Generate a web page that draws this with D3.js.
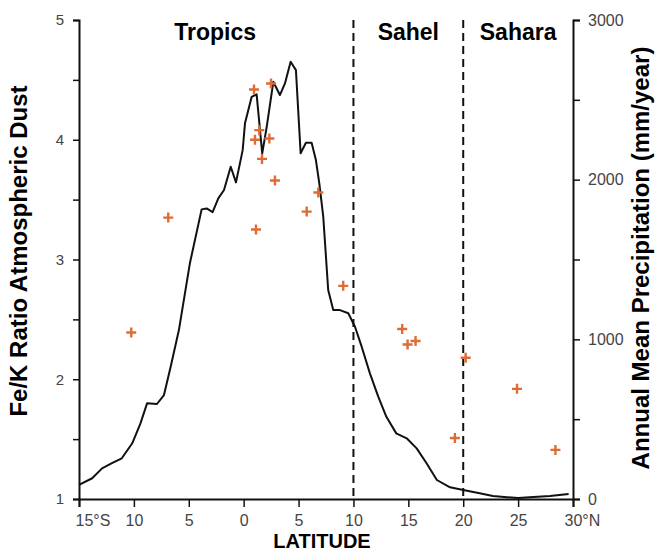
<!DOCTYPE html>
<html>
<head>
<meta charset="utf-8">
<script src="https://cdn.jsdelivr.net/npm/d3@7"></script>
<style>
  body { margin: 0; background: #fff; }
  text { font-family: "Liberation Sans", Arial, sans-serif; }
</style>
</head>
<body>
<svg id="chart" width="660" height="552"></svg>
<script>
// precipitation curve, latitude (neg = south) vs mm/year
const precipLat = [-15, -13.8, -12.9, -12.0, -11.1, -10.15, -9.4, -8.8, -7.9, -7.26, -6.65, -5.9, -4.9, -3.83, -3.37, -2.83, -2.31, -1.79, -1.18, -0.7, -0.09, 0.12, 0.73, 1.18, 1.69, 2.1, 2.7, 3.3, 3.76, 4.28, 4.76, 5.19, 5.67, 6.19, 6.58, 6.89, 7.25, 7.7, 8.16, 8.77, 9.53, 10.14, 10.75, 11.5, 12.26, 13.0, 13.9, 14.85, 15.76, 16.66, 17.6, 18.8, 20.0, 21.5, 22.7, 24.0, 25.0, 26.4, 27.9, 29.6]
const precip = [88, 130, 192, 224, 255, 349, 474, 599, 595, 651, 828, 1058, 1476, 1814, 1820, 1797, 1883, 1935, 2081, 1983, 2185, 2353, 2519, 2534, 2165, 2331, 2613, 2530, 2603, 2738, 2686, 2165, 2231, 2231, 2123, 1977, 1768, 1309, 1183, 1183, 1163, 1079, 954, 787, 641, 515, 411, 380, 317, 224, 119, 73, 56, 36, 19, 11, 6, 13, 19, 31]

// Fe/K samples
const sampleLat = [-10.24, -6.87, 0.94, 2.49, 1.42, 1.03, 2.34, 1.67, 2.85, 1.12, 5.74, 6.8, 9.07, 14.44, 14.93, 15.66, 19.24, 20.22, 24.9, 28.4]
const feK = [2.39, 3.35, 4.42, 4.47, 4.08, 4.0, 4.01, 3.84, 3.66, 3.25, 3.40, 3.56, 2.78, 2.42, 2.29, 2.32, 1.51, 2.18, 1.92, 1.41]

const xTicks = [-15, -10, -5, 0, 5, 10, 15, 20, 25, 30]
const xTickLabels = ["15°S", "10", "5", "0", "5", "10", "15", "20", "25", "30°N"]
const zones = [{name: "Tropics", lat: -2.6}, {name: "Sahel", lat: 15.0}, {name: "Sahara", lat: 25.0}]
const borders = [10, 20]

const svg = d3.select("#chart")
const mLeft = 79, mRight = 573, mTop = 20, mBottom = 499

let x = d3.scaleLinear().domain([-15, 30]).range([mLeft, mRight])
let yL = d3.scaleLinear().domain([1, 5]).range([mBottom, mTop])
let yR = d3.scaleLinear().domain([0, 3000]).range([mBottom, mTop])

// dashed zone borders
svg.selectAll("line.border")
  .data(borders).enter()
  .append("line")
  .attr("class", "border")
  .attr("x1", d => x(d)).attr("x2", d => x(d))
  .attr("y1", mTop).attr("y2", mBottom)
  .attr("stroke", "#111")
  .attr("stroke-width", 2)
  .attr("stroke-dasharray", "8,5")

// precipitation line
let line_gen = d3.line()
  .x((d, i) => x(precipLat[i]))
  .y(d => yR(d))
svg.append("path")
  .attr("d", line_gen(precip))
  .attr("fill", "none")
  .attr("stroke", "#111")
  .attr("stroke-width", 2)
  .attr("stroke-linejoin", "round")

// samples as plus signs
svg.selectAll("path.pt")
  .data(feK).enter()
  .append("path")
  .attr("class", "pt")
  .attr("d", "M-5,0H5M0,-5V5")
  .attr("transform", (d, i) => `translate(${x(sampleLat[i])},${yL(d)})`)
  .attr("stroke", "#de6c35")
  .attr("stroke-width", 2.4)
  .attr("fill", "none")

// axes
function style_axis(g, size) {
  g.select(".domain").attr("stroke", "#111").attr("stroke-width", 2)
  g.selectAll(".tick line").attr("stroke", "#111").attr("stroke-width", 1.5)
  g.selectAll(".tick text").attr("fill", "#444").style("font-size", size + "px")
}

svg.append("g")
  .attr("transform", `translate(${mLeft},0)`)
  .call(d3.axisLeft(yL).tickValues([1, 1.5, 2, 2.5, 3, 3.5, 4, 4.5, 5])
    .tickFormat(d => Number.isInteger(d) ? d : "").tickSizeOuter(0).tickSize(6).tickPadding(9))
  .call(style_axis, 15)

svg.append("g")
  .attr("transform", `translate(${mRight},0)`)
  .call(d3.axisRight(yR).tickValues([0, 500, 1000, 1500, 2000, 2500, 3000])
    .tickFormat(d => d % 1000 == 0 ? d : "").tickSizeOuter(0).tickSize(7).tickPadding(8))
  .call(style_axis, 16)

let xAxis = svg.append("g")
  .attr("transform", `translate(0,${mBottom})`)
  .call(d3.axisBottom(x).tickValues(xTicks)
    .tickFormat((d, i) => xTickLabels[i]).tickSizeOuter(0).tickSize(8).tickPadding(8))
  .call(style_axis, 16)
// end labels hang off the tick like the original
xAxis.selectAll(".tick text")
  .attr("text-anchor", (d, i) => i == 0 || i == xTicks.length - 1 ? "start" : "middle")
  .attr("dx", (d, i) => i == 0 ? -4 : i == xTicks.length - 1 ? -9 : 0)

// zone labels
svg.selectAll("text.zone")
  .data(zones).enter()
  .append("text")
  .attr("class", "zone")
  .attr("x", d => x(d.lat)).attr("y", 40)
  .attr("text-anchor", "middle")
  .style("font-size", "23px").style("font-weight", "bold")
  .text(d => d.name)

// axis titles
svg.append("text")
  .attr("transform", "translate(27,251) rotate(-90)")
  .attr("text-anchor", "middle")
  .style("font-size", "24px").style("font-weight", "bold")
  .text("Fe/K Ratio Atmospheric Dust")

svg.append("text")
  .attr("transform", "translate(649,258) rotate(-90)")
  .attr("text-anchor", "middle")
  .style("font-size", "24px").style("font-weight", "bold")
  .text("Annual Mean Precipitation (mm/year)")

svg.append("text")
  .attr("x", 322).attr("y", 548)
  .attr("text-anchor", "middle")
  .style("font-size", "20px").style("font-weight", "bold")
  .text("LATITUDE")
</script>
</body>
</html>
